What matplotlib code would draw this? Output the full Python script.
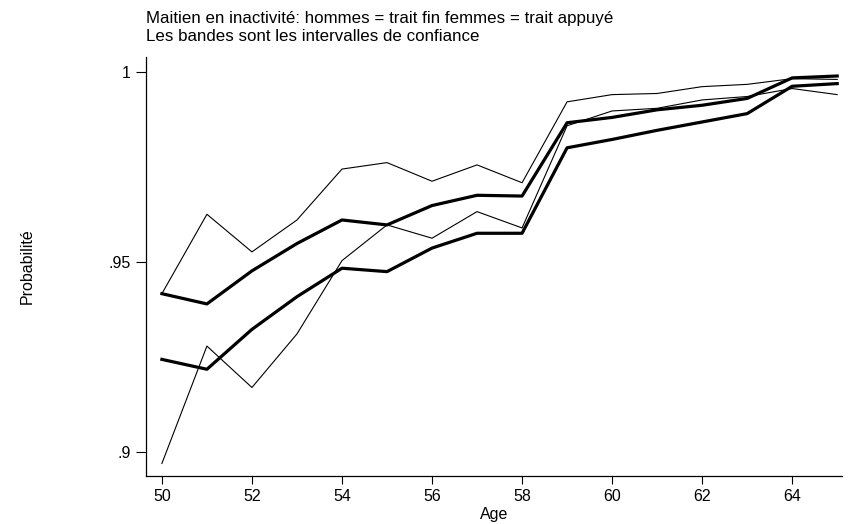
import matplotlib

matplotlib.use("Agg")
import matplotlib.pyplot as plt

plt.rcParams["font.family"] = ["Liberation Sans", "DejaVu Sans"]

ages = list(range(50, 66))

# hommes (trait fin): bornes de l'intervalle de confiance
hommes_haut = [0.9416, 0.9625, 0.9526, 0.9610, 0.9744, 0.9761, 0.9712, 0.9755,
               0.9708, 0.9921, 0.9940, 0.9943, 0.9961, 0.9967, 0.9982, 0.9980]
hommes_bas = [0.8969, 0.9278, 0.9169, 0.9310, 0.9503, 0.9597, 0.9562, 0.9632,
              0.9589, 0.9858, 0.9897, 0.9904, 0.9926, 0.9935, 0.9956, 0.9940]

# femmes (trait appuyé)
femmes_haut = [0.9416, 0.9389, 0.9476, 0.9548, 0.9610, 0.9597, 0.9648, 0.9675,
               0.9673, 0.9866, 0.9880, 0.9900, 0.9912, 0.9930, 0.9984, 0.9989]
femmes_bas = [0.9243, 0.9217, 0.9322, 0.9408, 0.9483, 0.9474, 0.9536, 0.9575,
              0.9575, 0.9800, 0.9822, 0.9846, 0.9868, 0.9890, 0.9962, 0.9969]

x_ticks = list(range(50, 65, 2))
y_ticks = [0.9, 0.95, 1.0]
y_ticklabels = [".9", ".95", "1"]

FS = 11.5
FS_TITLE = 12.2

fig = plt.figure(figsize=(8.54, 5.24), dpi=100)
ax = fig.add_axes([0.1706, 0.0916, 0.815, 0.7996])

for serie in (hommes_haut, hommes_bas):
    ax.plot(ages, serie, color="black", linewidth=0.8)
for serie in (femmes_haut, femmes_bas):
    ax.plot(ages, serie, color="black", linewidth=2.3)

ax.set_xlim(49.64, 65.1)
ax.set_ylim(0.8936, 1.0039)
ax.set_xticks(x_ticks)
ax.set_yticks(y_ticks)
ax.set_yticklabels(y_ticklabels)
ax.tick_params(axis="y", direction="out", length=7, width=0.8, labelsize=FS, pad=4)
ax.tick_params(axis="x", direction="out", length=6, width=0.8, labelsize=FS, pad=3)
ax.set_xlabel("Age", fontsize=FS, va="center")
ax.set_ylabel("Probabilité", fontsize=FS, va="center")
ax.xaxis.set_label_coords(0.5, -0.093)
ax.yaxis.set_label_coords(-0.1705, 0.5)

for side in ("top", "right"):
    ax.spines[side].set_visible(False)
for side in ("left", "bottom"):
    ax.spines[side].set_linewidth(0.9)

fig.text(0.1706, 1 - 18 / 524, "Maitien en inactivité: hommes = trait fin femmes = trait appuyé",
         fontsize=FS_TITLE, ha="left", va="center")
fig.text(0.1706, 1 - 36.7 / 524, "Les bandes sont les intervalles de confiance",
         fontsize=FS_TITLE, ha="left", va="center")

fig.savefig("out.png", dpi=100)
